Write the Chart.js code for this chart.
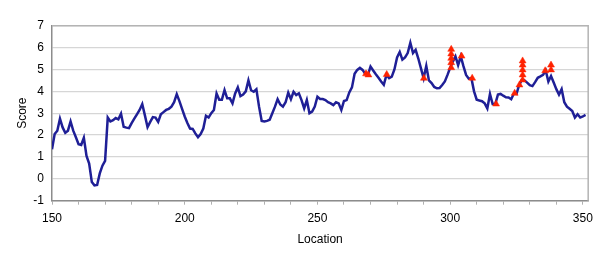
<!DOCTYPE html>
<html>
<head>
<meta charset="utf-8">
<script src="https://cdn.jsdelivr.net/npm/chart.js@4/dist/chart.umd.min.js"></script>
<style>
html,body{margin:0;padding:0;background:#fff;}
#wrap{width:600px;height:258px;}
</style>
</head>
<body>
<div id="wrap"><canvas id="c" width="600" height="258"></canvas></div>
<script>
// Score profile along location
const locations = [150,151,152,153,154,155,156,157,158,159,160,161,162,163,164,165,166,167,168,169,170,171,172,173,174,175,176,177,178,179,180,181,182,183,184,185,186,187,188,189,190,191,192,193,194,195,196,197,198,199,200,201,202,203,204,205,206,207,208,209,210,211,212,213,214,215,216,217,218,219,220,221,222,223,224,225,226,227,228,229,230,231,232,233,234,235,236,237,238,239,240,241,242,243,244,245,246,247,248,249,250,251,252,253,254,255,256,257,258,259,260,261,262,263,264,265,266,267,268,269,270,271,272,273,274,275,276,277,278,279,280,281,282,283,284,285,286,287,288,289,290,291,292,293,294,295,296,297,298,299,300,301,302,303,304,305,306,307,308,309,310,311,312,313,314,315,316,317,318,319,320,321,322,323,324,325,326,327,328,329,330,331,332,333,334,335,336,337,338,339,340,341,342,343,344,345,346,347,348,349,350,351];
const scores = [1.35,2.05,2.2,2.75,2.35,2.1,2.2,2.62,2.2,1.9,1.58,1.55,1.88,1.05,0.7,-0.15,-0.3,-0.28,0.25,0.6,0.82,2.8,2.62,2.68,2.78,2.72,2.98,2.38,2.34,2.32,2.55,2.75,2.95,3.15,3.42,2.9,2.36,2.6,2.82,2.8,2.6,2.95,3.05,3.15,3.2,3.3,3.5,3.87,3.55,3.2,2.85,2.55,2.3,2.28,2.08,1.9,2.05,2.3,2.88,2.8,3.0,3.15,3.9,3.62,3.62,4.06,3.68,3.68,3.45,3.9,4.18,3.78,3.85,4.0,4.5,4.05,3.98,4.09,3.3,2.65,2.62,2.65,2.7,3.0,3.3,3.64,3.4,3.3,3.5,3.94,3.64,3.98,3.83,3.91,3.6,3.22,3.6,3.0,3.07,3.3,3.75,3.65,3.65,3.6,3.5,3.45,3.37,3.5,3.45,3.15,3.56,3.6,3.95,4.18,4.8,4.98,5.07,4.98,4.8,4.75,5.13,4.95,4.78,4.62,4.45,4.3,4.75,4.6,4.67,5.0,5.55,5.8,5.45,5.55,5.75,6.22,5.75,5.9,5.5,5.05,4.6,5.16,4.5,4.38,4.2,4.14,4.15,4.29,4.45,4.75,5.08,5.35,5.6,5.2,5.6,5.15,4.75,4.58,4.6,4.0,3.62,3.58,3.55,3.45,3.22,3.88,3.42,3.42,3.85,3.88,3.8,3.73,3.72,3.64,3.9,3.88,4.29,4.52,4.5,4.4,4.28,4.24,4.42,4.62,4.68,4.75,4.95,4.45,4.7,4.4,4.1,3.85,4.1,3.5,3.3,3.2,3.1,2.8,2.95,2.8,2.85,2.92];

// Highlighted sites (red triangles)
const markerLocations = [268.3,269.2,276.1,290.1,300.4,300.4,300.4,300.4,300.4,304.3,308.3,317.3,324.3,326.1,327.3,327.3,327.3,327.3,327.3,335.8,338.0,338.0];
const markerScores = [4.8,4.75,4.77,4.6,5.92,5.71,5.51,5.31,5.08,5.61,4.6,3.42,3.91,4.29,4.52,4.75,4.98,5.2,5.39,4.94,5.2,4.98];

const xMin = 150, xMax = 352, xStep = 10, xLabelEvery = 50;
const yMin = -1, yMax = 7, yStep = 1;

const lineData = locations.map((x, i) => ({x: x, y: scores[i]}));
const markerData = markerLocations.map((x, i) => ({x: x, y: markerScores[i]}));

const borderPlugin = {
  id: 'plotBorder',
  afterDraw(chart) {
    const {ctx, chartArea: a} = chart;
    ctx.save();
    ctx.strokeStyle = '#b4b4b4';
    ctx.lineWidth = 1.5;
    ctx.beginPath();
    ctx.moveTo(a.left, a.top);
    ctx.lineTo(a.right, a.top);
    ctx.lineTo(a.right, a.bottom);
    ctx.stroke();
    ctx.restore();
  }
};

Chart.defaults.font.family = '"Liberation Sans", Arial, sans-serif';
Chart.defaults.font.size = 12;
Chart.defaults.color = '#000';

new Chart(document.getElementById('c'), {
  type: 'line',
  data: {
    datasets: [
      {
        data: markerData,
        showLine: false,
        pointStyle: 'triangle',
        pointRadius: 4,
        backgroundColor: '#ff2200',
        borderColor: '#ff2200',
        borderWidth: 0.5,
        order: 0
      },
      {
        data: lineData,
        borderColor: '#1f1f96',
        borderWidth: 2.5,
        pointRadius: 0,
        tension: 0,
        fill: false,
        order: 1
      }
    ]
  },
  options: {
    responsive: false,
    animation: false,
    events: [],
    layout: {padding: {top: 25.7, right: 11, left: 0, bottom: 0}},
    plugins: {legend: {display: false}, tooltip: {enabled: false}},
    scales: {
      x: {
        type: 'linear',
        min: xMin, max: xMax,
        afterFit(s) { s.height = 57.3; },
        ticks: {
          stepSize: xStep,
          includeBounds: false,
          autoSkip: false,
          maxRotation: 0,
          padding: 7,
          callback: (v) => (v % xLabelEvery === 0 ? String(v) : '')
        },
        grid: {drawOnChartArea: false, drawTicks: true, tickLength: 4, color: '#b0b0b0'},
        border: {color: '#8c8c8c', width: 1.5},
        title: {display: true, text: 'Location', padding: {top: 0, bottom: 11}}
      },
      y: {
        min: yMin, max: yMax,
        afterFit(s) { s.width = 52; },
        ticks: {stepSize: yStep, padding: 8},
        grid: {color: '#d6d6d6', lineWidth: 1.2, drawTicks: false},
        border: {color: '#8c8c8c', width: 1.5},
        title: {display: true, text: 'Score', padding: {top: 15, bottom: 0}}
      }
    }
  },
  plugins: [borderPlugin]
});
</script>
</body>
</html>
